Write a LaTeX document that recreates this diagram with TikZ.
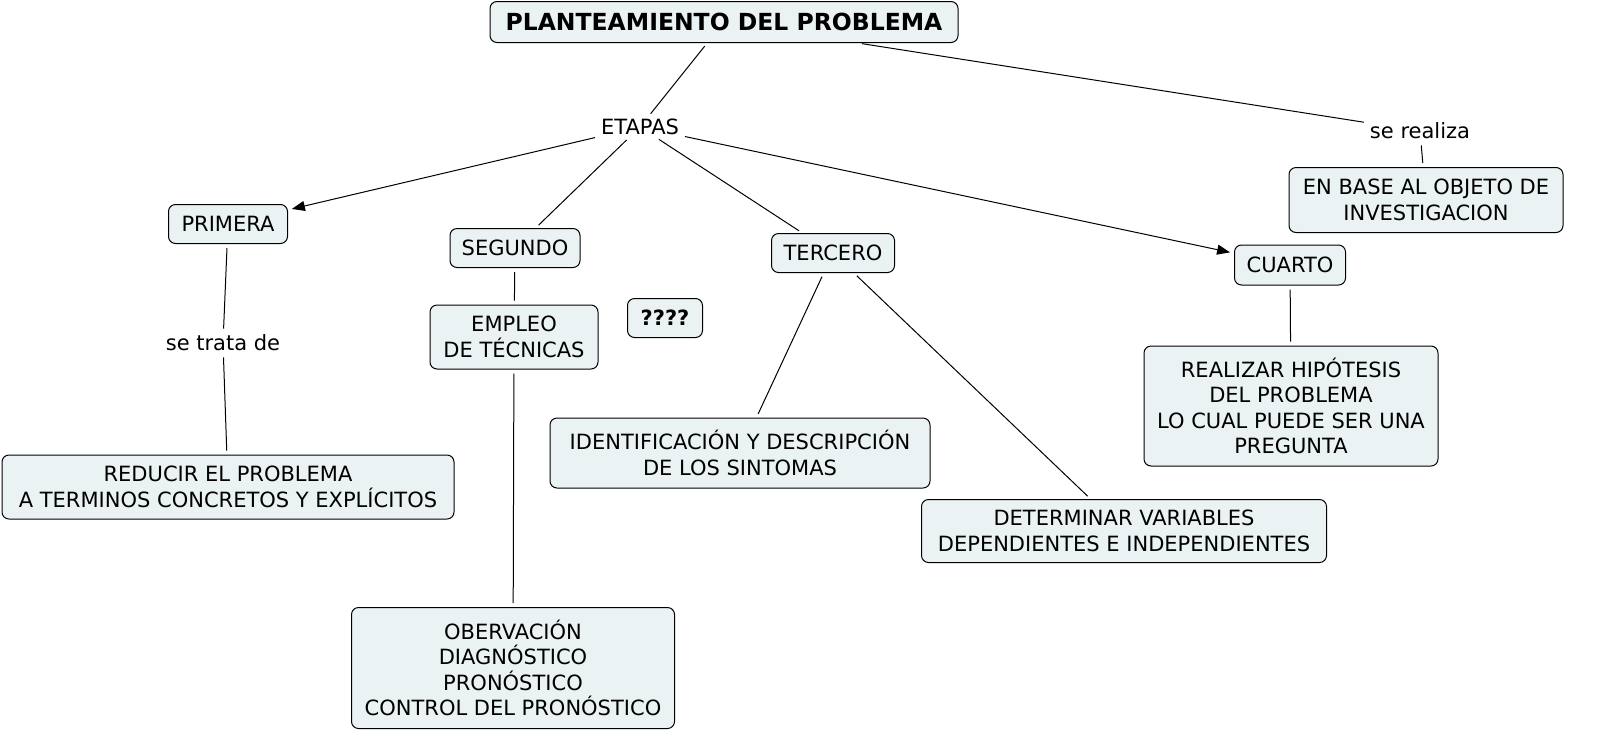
\documentclass[tikz,border=0pt]{standalone}
\usepackage{fontspec}
\setmainfont{DejaVu Sans}
\usetikzlibrary{arrows.meta}
\definecolor{boxfill}{HTML}{EBF2F4}
\begin{document}
\begin{tikzpicture}[x=1pt,y=-1pt,
  box/.style={draw,fill=boxfill,rounded corners=7pt,line width=1pt,align=center,font=\fontsize{21}{25.5}\selectfont,inner sep=0pt},
  lab/.style={align=center,font=\fontsize{21}{25}\selectfont,inner sep=2pt},
  ln/.style={line width=1pt,shorten <=4pt,shorten >=4pt},
  ar/.style={ln,-{Triangle[length=13pt,width=10pt]}}]
\useasboundingbox (0,0) rectangle (1600,748);
\node[box,minimum width=468pt,minimum height=41pt,font=\fontsize{23.5}{26}\selectfont\bfseries] (title) at (724,22) {PLANTEAMIENTO DEL PROBLEMA};
\node[lab] (etapas) at (640,127) {ETAPAS};
\node[lab] (sereal) at (1420,131) {se realiza};
\node[box,minimum width=274pt,minimum height=65pt] (base) at (1426,200) {EN BASE AL OBJETO DE\\INVESTIGACION};
\node[box,minimum width=119pt,minimum height=39pt] (primera) at (228,224) {PRIMERA};
\node[box,minimum width=130pt,minimum height=39pt] (segundo) at (515,248) {SEGUNDO};
\node[box,minimum width=75pt,minimum height=39pt,font=\fontsize{21}{25}\selectfont\bfseries] (q) at (665,318) {????};
\node[box,minimum width=123pt,minimum height=39pt] (tercero) at (833,253) {TERCERO};
\node[box,minimum width=111pt,minimum height=40pt] (cuarto) at (1290,265) {CUARTO};
\node[lab] (trata) at (223,343) {se trata de};
\node[box,minimum width=168pt,minimum height=64pt] (empleo) at (514,337) {EMPLEO\\DE TÉCNICAS};
\node[box,minimum width=380pt,minimum height=70pt] (ident) at (740,453) {IDENTIFICACIÓN Y DESCRIPCIÓN\\DE LOS SINTOMAS};
\node[box,minimum width=294pt,minimum height=120pt] (realizar) at (1291,406) {REALIZAR HIPÓTESIS\\DEL PROBLEMA\\LO CUAL PUEDE SER UNA\\PREGUNTA};
\node[box,minimum width=452pt,minimum height=64pt] (reducir) at (228,487) {REDUCIR EL PROBLEMA\\A TERMINOS CONCRETOS Y EXPLÍCITOS};
\node[box,minimum width=405pt,minimum height=63pt] (determ) at (1124,531) {DETERMINAR VARIABLES\\DEPENDIENTES E INDEPENDIENTES};
\node[box,minimum width=323pt,minimum height=121pt] (obs) at (513,668) {OBERVACIÓN\\DIAGNÓSTICO\\PRONÓSTICO\\CONTROL DEL PRONÓSTICO};
\draw[ln] (title) -- (etapas);
\draw[ln] (title) -- (sereal);
\draw[ln] (sereal) -- (base);
\draw[ar] (etapas) -- (primera);
\draw[ln] (etapas) -- (segundo);
\draw[ln] (etapas) -- (tercero);
\draw[ar] (etapas) -- (cuarto);
\draw[ln] (primera) -- (trata);
\draw[ln] (trata) -- (reducir);
\draw[ln] (segundo) -- (empleo);
\draw[ln] (empleo) -- (obs);
\draw[ln] (tercero) -- (ident);
\draw[ln] (tercero) -- (determ);
\draw[ln] (cuarto) -- (realizar);
\end{tikzpicture}
\end{document}
